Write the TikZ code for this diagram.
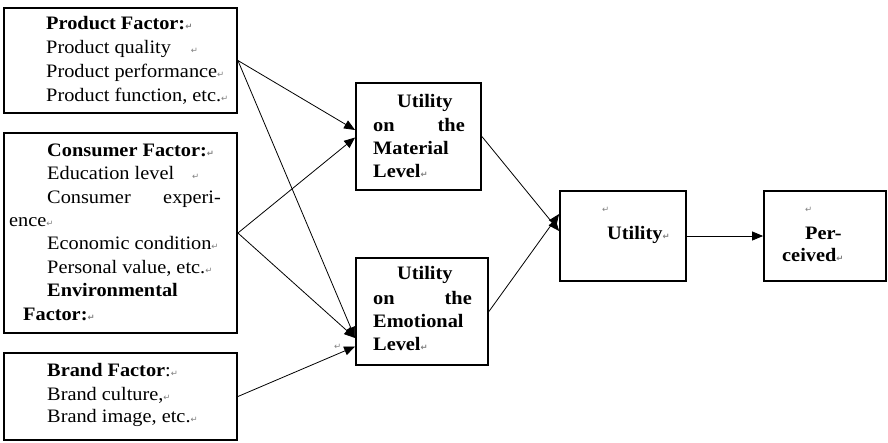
\documentclass[tikz,border=0pt]{standalone}
\usepackage{fontspec}
\setmainfont{Liberation Serif}[FakeStretch=1.07]
\newfontfamily\retfont{DejaVu Sans}
\usetikzlibrary{arrows.meta}
\newcommand\rt{{\retfont\fontsize{8.5}{8.5}\selectfont\color{gray}↵}}
\newcommand\fs{\fontsize{19}{23}\selectfont}
\begin{document}
\begin{tikzpicture}[x=1pt,y=-1pt,
  box/.style={draw, line width=1.8pt, inner sep=0pt},
  conn/.style={line width=0.8pt, -{Triangle[length=11pt,width=9pt]}},
  txt/.style={anchor=base west, inner sep=0pt, font=\fs},
  txtr/.style={anchor=base east, inner sep=0pt, font=\fs},
  txtb/.style={txt, font=\fs\bfseries},
  txtbr/.style={txtr, font=\fs\bfseries}]
\useasboundingbox (0,0) rectangle (888,442);
% boxes
\node[box, minimum width=233pt, minimum height=105pt] (prod) at (120.5,60.5) {};
\node[box, minimum width=233pt, minimum height=200pt] (cons) at (120.5,233) {};
\node[box, minimum width=233pt, minimum height=87pt] (brand) at (120.5,396.5) {};
\node[box, minimum width=125pt, minimum height=107pt] (mat) at (418.5,136.5) {};
\node[box, minimum width=132pt, minimum height=107pt] (emo) at (422,311.5) {};
\node[box, minimum width=126pt, minimum height=90pt] (util) at (623,236) {};
\node[box, minimum width=122pt, minimum height=90pt] (perc) at (825,236) {};
% product text
\node[txtb] (p1) at (46,29) {Product Factor:\rt};
\node[txt] (p2) at (46,53) {Product quality\hspace{20pt}\rt};
\node[txt] (p3) at (46,77) {Product performance\rt};
\node[txt] (p4) at (46,101) {Product function, etc.\rt};
% consumer text
\node[txtb] (c1) at (47,156) {Consumer Factor:\rt};
\node[txt] (c2) at (47,179) {Education level\hspace{18pt}\rt};
\node[txt] (c3) at (47,203) {Consumer};
\node[txtr] (c3b) at (221,203) {experi-};
\node[txt] (c4) at (9,226) {ence\rt};
\node[txt] (c5) at (47,249) {Economic condition\rt};
\node[txt] (c6) at (47,273) {Personal value, etc.\rt};
\node[txtb] (c7) at (47,296) {Environmental};
\node[txtb] (c8) at (23,320) {Factor:\rt};
% brand text
\node[txt] (b1) at (47,376) {\textbf{Brand Factor}:\rt};
\node[txt] (b2) at (47,400) {Brand culture,\rt};
\node[txt] (b3) at (47,422) {Brand image, etc.\rt};
% material text
\node[txtb] (m1) at (397,107) {Utility};
\node[txtb] (m2) at (373,131) {on};
\node[txtbr] (m2b) at (465,131) {the};
\node[txtb] (m3) at (373,154) {Material};
\node[txtb] (m4) at (373,177) {Level\rt};
% emotional text
\node[txtb] (e1) at (397,279) {Utility};
\node[txtb] (e2) at (373,304) {on};
\node[txtbr] (e2b) at (472,304) {the};
\node[txtb] (e3) at (373,327) {Emotional};
\node[txtb] (e4) at (373,350) {Level\rt};
\node[txt] (e5) at (334,349) {\rt};
% utility / perceived text
\node[txt] (u0) at (602,212) {\rt};
\node[txtb] (u1) at (607,239) {Utility\rt};
\node[txt] (q0) at (805,212) {\rt};
\node[txtb] (q1) at (805,239) {Per-};
\node[txtb] (q2) at (782,261) {ceived\rt};
% connectors
\draw[conn] (prod.east) -- ([yshift=6.5pt]mat.west);
\draw[conn] (prod.east) -- ([yshift=-26.5pt]emo.west);
\draw[conn] (cons.east) -- ([yshift=-1pt]mat.west);
\draw[conn] (cons.east) -- ([yshift=-26.5pt]emo.west);
\draw[conn] (brand.east) -- ([yshift=-35pt]emo.west);
\draw[conn] (mat.east) -- ([yshift=5pt]util.west);
\draw[conn] (emo.east) -- ([yshift=22pt]util.west);
\draw[conn] (util.east) -- (perc.west);
\end{tikzpicture}
\end{document}
